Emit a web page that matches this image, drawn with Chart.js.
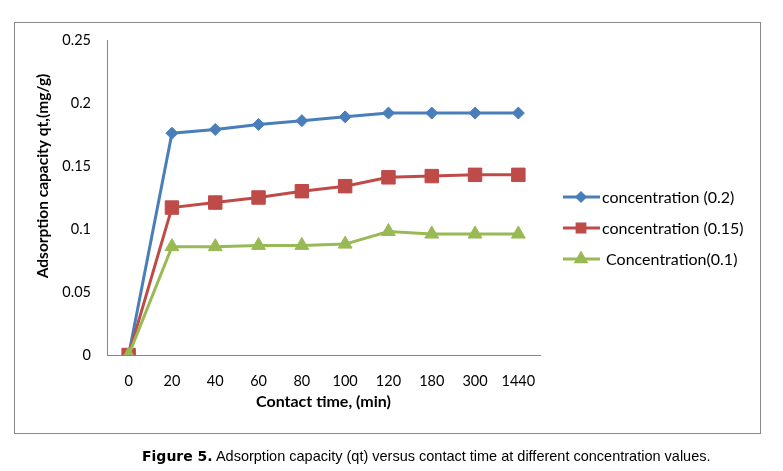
<!DOCTYPE html>
<html><head><meta charset="utf-8">
<script src="https://cdn.jsdelivr.net/npm/chart.js@4"></script>
<style>
html,body{margin:0;padding:0;background:#fff;}
#wrap{position:relative;width:783px;height:471px;overflow:hidden;}
canvas{position:absolute;left:0;top:0;}
#cap{position:absolute;left:142px;top:447px;font-family:"Liberation Sans",Arial,sans-serif;font-size:14.5px;color:#000;white-space:nowrap;line-height:18px;}
#cap b{font-family:"DejaVu Sans",sans-serif;font-size:14px;}
</style></head>
<body><div id="wrap"><canvas id="c" width="783" height="471"></canvas>
<div id="cap"><b>Figure 5.</b> Adsorption capacity (qt) versus contact time at different concentration values.</div></div>
<script>
const categories = ['0','20','40','60','80','100','120','180','300','1440'];
const conc02  = [0,0.176,0.179,0.183,0.186,0.189,0.192,0.192,0.192,0.192];
const conc015 = [0,0.117,0.121,0.125,0.130,0.134,0.141,0.142,0.143,0.143];
const conc01  = [0,0.086,0.086,0.087,0.087,0.088,0.098,0.096,0.096,0.096];
const yTicks = [0,0.05,0.1,0.15,0.2,0.25];
const seriesNames = ['concentration (0.2)','concentration (0.15)',' Concentration(0.1)'];
const xTitle = 'Contact time, (min)';
const yTitle = 'Adsorption capacity qt,(mg/g)';

const colors = ['#4A7EBB','#BE4B48','#98B954'];
const styles = ['rectRot','rect','triangle'];
const radii = [6,9.5,8];
const legendRadii = [4,5.5,5.5];
const FONT = 'Lato, "Open Sans", sans-serif';

const series = [conc02, conc015, conc01];
const datasets = series.map((d,i)=>({
  label: seriesNames[i], data: d,
  borderColor: colors[i], backgroundColor: colors[i],
  pointBackgroundColor: colors[i], pointBorderColor: colors[i],
  pointStyle: styles[i], pointRadius: radii[i], pointHoverRadius: radii[i],
  pointBorderWidth: 1, borderWidth: 3, tension: 0, fill: false,
  order: 2 - i
}));

const deco = {
  id: 'deco',
  afterDraw(chart){
    const ctx = chart.ctx;
    ctx.save();
    ctx.strokeStyle = '#888'; ctx.lineWidth = 1;
    ctx.strokeRect(14.5, 22.5, 746, 411);
    // y title
    ctx.fillStyle = '#000';
    ctx.font = 'bold 15.5px ' + FONT;
    ctx.textAlign = 'center'; ctx.textBaseline = 'middle';
    ctx.translate(43, 176); ctx.rotate(-Math.PI/2);
    ctx.fillText(yTitle, 0, 0);
    ctx.restore();
    // legend
    ctx.save();
    const rows = [197, 228, 259];
    ctx.font = '16px ' + FONT;
    ctx.textAlign = 'left'; ctx.textBaseline = 'middle';
    for (let i=0;i<3;i++){
      const y = rows[i];
      ctx.strokeStyle = colors[i]; ctx.lineWidth = 3;
      ctx.beginPath(); ctx.moveTo(563, y); ctx.lineTo(600, y); ctx.stroke();
      ctx.fillStyle = colors[i];
      Chart.helpers.drawPoint(ctx, {pointStyle: styles[i], radius: legendRadii[i], rotation: 0, borderWidth: 1}, 581, y);
      ctx.fillStyle = '#000';
      ctx.fillText(seriesNames[i], 602, y + 1);
    }
    ctx.restore();
  }
};

new Chart(document.getElementById('c'), {
  type: 'line',
  data: { labels: categories, datasets },
  options: {
    responsive: false, animation: false, devicePixelRatio: 1,
    layout: { padding: { left: 0, right: 243, top: 40, bottom: 0 } },
    plugins: { legend: { display: false }, tooltip: { enabled: false } },
    scales: {
      x: {
        offset: true,
        grid: { display: false },
        border: { color: '#868686', width: 1 },
        ticks: { color: '#000', font: { family: FONT, size: 14.5 }, padding: 10, maxRotation: 0, autoSkip: false },
        title: { display: true, text: xTitle, color: '#000', font: { family: FONT, size: 16, weight: 'bold' }, padding: { top: 0, bottom: 60 } },
        afterFit(s){ s.height = 116; }
      },
      y: {
        min: 0, max: 0.25,
        grid: { display: false },
        border: { color: '#868686', width: 1 },
        afterBuildTicks(s){ s.ticks = yTicks.map(v=>({value:v})); },
        ticks: { color: '#000', font: { family: FONT, size: 14.5 }, padding: 8, callback: v => String(v) },
        afterFit(s){ s.width = 107; }
      }
    }
  },
  plugins: [deco]
});
</script>
</body></html>
